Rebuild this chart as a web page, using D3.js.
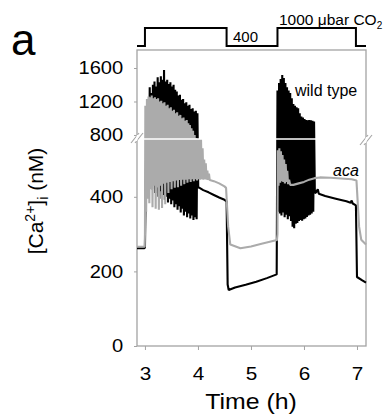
<!DOCTYPE html>
<html><head><meta charset="utf-8">
<script src="https://cdn.jsdelivr.net/npm/d3@7"></script>
<style>body{margin:0;background:#fff}svg{display:block}text{font-family:"Liberation Sans",Arial,sans-serif;fill:#000}</style>
</head><body><svg id="c" width="389" height="417"></svg>
<script>
// ---- data ----
const xTicks = [3, 4, 5, 6, 7];
const yTicks = [0, 200, 400, 800, 1200, 1600];
const co2Times = [2.85, 3.0, 4.54, 5.5, 6.98, 7.17];
const co2Levels = [400, 1000, 400, 1000, 400, 400];
const wildType = [
[2.85,262],[2.99,262],[3.0,266],[3.015,430],
[3.03,1050],[3.045,460],[3.06,1200],[3.075,430],[3.09,1370],[3.105,450],[3.12,1300],[3.135,420],[3.15,1400],[3.165,440],[3.18,1440],[3.195,410],[3.21,1380],[3.225,430],[3.24,1490],[3.255,400],[3.27,1430],[3.285,415],[3.3,1500],[3.315,395],[3.33,1460],[3.345,405],[3.36,1575],[3.375,392],[3.39,1440],[3.405,400],[3.42,1460],[3.435,385],[3.45,1410],[3.465,395],[3.48,1430],[3.495,380],[3.51,1380],[3.525,390],[3.54,1400],[3.555,372],[3.57,1340],[3.585,380],[3.6,1320],[3.615,365],[3.63,1270],[3.645,375],[3.66,1280],[3.675,358],[3.69,1220],[3.705,368],[3.72,1230],[3.735,350],[3.75,1180],[3.765,360],[3.78,1190],[3.795,345],[3.81,1150],[3.825,355],[3.84,1160],[3.855,342],[3.87,1110],[3.885,350],[3.9,1120],[3.915,338],[3.93,1080],[3.945,345],[3.96,1090],[3.975,340],[3.99,1060],[4.005,425],
[4.03,424],[4.1,418],[4.2,412],[4.3,405],[4.4,398],[4.5,392],[4.54,388],[4.56,165],[4.58,150],[4.7,157],[4.9,164],[5.1,172],[5.3,182],[5.485,192],
[5.5,1330],[5.515,360],[5.53,1420],[5.545,355],[5.56,1470],[5.575,350],[5.59,1515],[5.605,358],[5.62,1480],[5.635,345],[5.65,1420],[5.665,352],[5.68,1370],[5.695,340],[5.71,1330],[5.725,348],[5.74,1300],[5.755,335],[5.77,1240],[5.785,320],[5.8,1170],[5.815,316],[5.83,1150],[5.845,328],[5.86,1130],[5.875,330],[5.89,1120],[5.905,335],[5.92,1060],[5.935,338],[5.95,1020],[5.965,336],[5.98,1010],[5.995,340],[6.01,990],[6.025,342],[6.04,980],[6.055,346],[6.07,975],[6.085,350],[6.1,980],[6.115,352],[6.13,975],[6.145,355],[6.16,970],[6.175,360],[6.19,960],[6.205,410],
[6.23,412],[6.26,420],[6.28,408],[6.4,402],[6.6,395],[6.8,388],[6.88,384],[6.9,390],[6.92,382],[6.98,377],[7.0,185],[7.1,176],[7.17,170]
];
const aca = [
[2.85,266],[2.995,266],[3.0,300],[3.0075,1150],[3.0225,360],[3.0375,1230],[3.0525,395],[3.0675,1260],[3.0825,383],[3.0975,1250],[3.1125,420],[3.1275,1270],[3.1425,372],[3.1575,1240],[3.1725,430],[3.1875,1250],[3.2025,368],[3.2175,1230],[3.2325,425],[3.2475,1240],[3.2625,365],[3.2775,1200],[3.2925,430],[3.3075,1210],[3.3225,370],[3.3375,1180],[3.3525,435],[3.3675,1190],[3.3825,380],[3.3975,1150],[3.4125,438],[3.4275,1160],[3.4425,410],[3.4575,1120],[3.4725,440],[3.4875,1130],[3.5025,420],[3.5175,1090],[3.5325,442],[3.5475,1100],[3.5625,424],[3.5775,1060],[3.5925,444],[3.6075,1070],[3.6225,426],[3.6375,1030],[3.6525,445],[3.6675,1040],[3.6825,430],[3.6975,1000],[3.7125,446],[3.7275,1010],[3.7425,434],[3.7575,970],[3.7725,446],[3.7875,980],[3.8025,438],[3.8175,940],[3.8325,447],[3.8475,920],[3.8625,440],[3.8775,880],[3.8925,447],[3.9075,850],[3.9225,442],[3.9375,800],[3.9525,447],[3.9675,760],[3.9825,444],[3.9975,700],[4.0125,447],[4.0275,620],[4.0425,446],[4.0575,560],[4.0725,447],[4.0875,530],[4.1025,446],[4.1175,500],[4.1325,447],[4.1475,490],[4.1625,446],[4.1775,470],[4.1925,445],[4.2075,462],[4.2225,445],
[4.3,442],[4.4,436],[4.5,428],[4.53,424],[4.57,320],[4.61,272],[4.8,262],[5.0,267],[5.2,274],[5.49,284],
[5.5,300],[5.505,525],[5.52,430],[5.535,530],[5.55,438],[5.565,522],[5.58,442],[5.595,512],[5.61,440],[5.625,500],[5.64,436],[5.655,488],[5.67,440],[5.685,470],[5.7,434],[5.72,446],[5.74,432],
[5.8,432],[5.9,436],[6.0,440],[6.1,446],[6.2,450],[6.3,452],[6.5,451],[6.7,449],[6.9,447],[6.99,444],[7.04,320],[7.08,285],[7.17,272]
];

// ---- layout ----
const L = 137, R = 366, T = 50, B = 346, BRK = 139;
const svg = d3.select("#c");
const x = d3.scaleLinear().domain([2.85, 7.17]).range([L, R]);
const y = d3.scaleLinear().domain([0, 555, 752, 1815]).range([B, BRK, BRK, T]).clamp(true);
const yc = d3.scaleLinear().domain([400, 1000]).range([46, 28]);
const frameCol = "#a3a3a3";

// frame
svg.append("rect").attr("x", L).attr("y", T).attr("width", R - L).attr("height", B - T)
  .attr("fill", "none").attr("stroke", frameCol).attr("stroke-width", 1.3);

// series
const line = d3.line().x(d => x(d[0])).y(d => y(d[1]));
svg.append("path").datum(wildType).attr("d", line).attr("fill", "none")
  .attr("stroke", "#000").attr("stroke-width", 2.1).attr("stroke-linejoin", "bevel");
svg.append("path").datum(aca).attr("d", line).attr("fill", "none")
  .attr("stroke", "#ababab").attr("stroke-width", 2.1).attr("stroke-linejoin", "bevel");

// break line
svg.append("line").attr("x1", L + 1).attr("x2", R - 1).attr("y1", BRK).attr("y2", BRK)
  .attr("stroke", "#fff").attr("stroke-width", 1.6);

// axes
const gy = svg.append("g").attr("transform", `translate(${L},0)`)
  .call(d3.axisLeft(y).tickValues(yTicks).tickSize(3).tickFormat(d3.format("d")));
gy.select(".domain").remove();
gy.selectAll("line").attr("stroke", frameCol);
gy.selectAll("text").attr("x", -12).attr("transform", "scale(1.15,1)")
  .style("font-size", "17.5px").attr("font-family", null);

const gx = svg.append("g").attr("transform", `translate(0,${B})`)
  .call(d3.axisBottom(x).tickValues(xTicks).tickSize(4).tickFormat(d3.format("d")));
gx.select(".domain").remove();
gx.selectAll("line").attr("stroke", frameCol);
gx.selectAll("text").attr("y", 20.5).attr("transform", "scale(1.12,1)")
  .style("font-size", "18.5px").attr("font-family", null);

// break marks
[[L, BRK - 1], [R, BRK + 1]].forEach(([bx, by]) => {
  [-2, 2].forEach(o => {
    svg.append("line").attr("x1", bx + o - 4).attr("y1", by + 5).attr("x2", bx + o + 4).attr("y2", by - 5)
      .attr("stroke", frameCol).attr("stroke-width", 1.1);
  });
  svg.append("line").attr("x1", bx - 1).attr("y1", by + 3).attr("x2", bx + 1).attr("y2", by - 3)
    .attr("stroke", "#fff").attr("stroke-width", 2.2);
});

// CO2 step line
const co2 = co2Times.map((t, i) => [t, co2Levels[i]]);
svg.append("path").datum(co2)
  .attr("d", d3.line().x(d => x(d[0])).y(d => yc(d[1])).curve(d3.curveStepAfter))
  .attr("fill", "none").attr("stroke", "#000").attr("stroke-width", 2);

svg.append("text").attr("x", 245.5).attr("y", 41.5).attr("text-anchor", "middle")
  .style("font-size", "15px").text("400");
const t1 = svg.append("text").attr("x", 279).attr("y", 25).style("font-size", "15.5px");
t1.append("tspan").text("1000 μbar CO");
t1.append("tspan").attr("dy", 4).style("font-size", "10px").text("2");

// panel letter
svg.append("text").attr("x", 11).attr("y", 55).style("font-size", "44px").text("a");

// labels
svg.append("text").attr("x", 295).attr("y", 96).style("font-size", "16px").text("wild type");
svg.append("text").attr("x", 333).attr("y", 176).style("font-size", "16px").style("font-style", "italic").text("aca");

svg.append("text").attr("transform", "translate(251,409) scale(1.13,1)").attr("text-anchor", "middle")
  .style("font-size", "22px").text("Time (h)");

const yl = svg.append("text").attr("transform", "translate(43,201) rotate(-90)").attr("text-anchor", "middle")
  .style("font-size", "21px");
yl.append("tspan").text("[Ca");
yl.append("tspan").attr("dy", -8).style("font-size", "14px").text("2+");
yl.append("tspan").attr("dy", 8).text("]");
yl.append("tspan").attr("dy", 5).style("font-size", "14px").text("i");
yl.append("tspan").attr("dy", -5).text(" (nM)");
</script></body></html>
